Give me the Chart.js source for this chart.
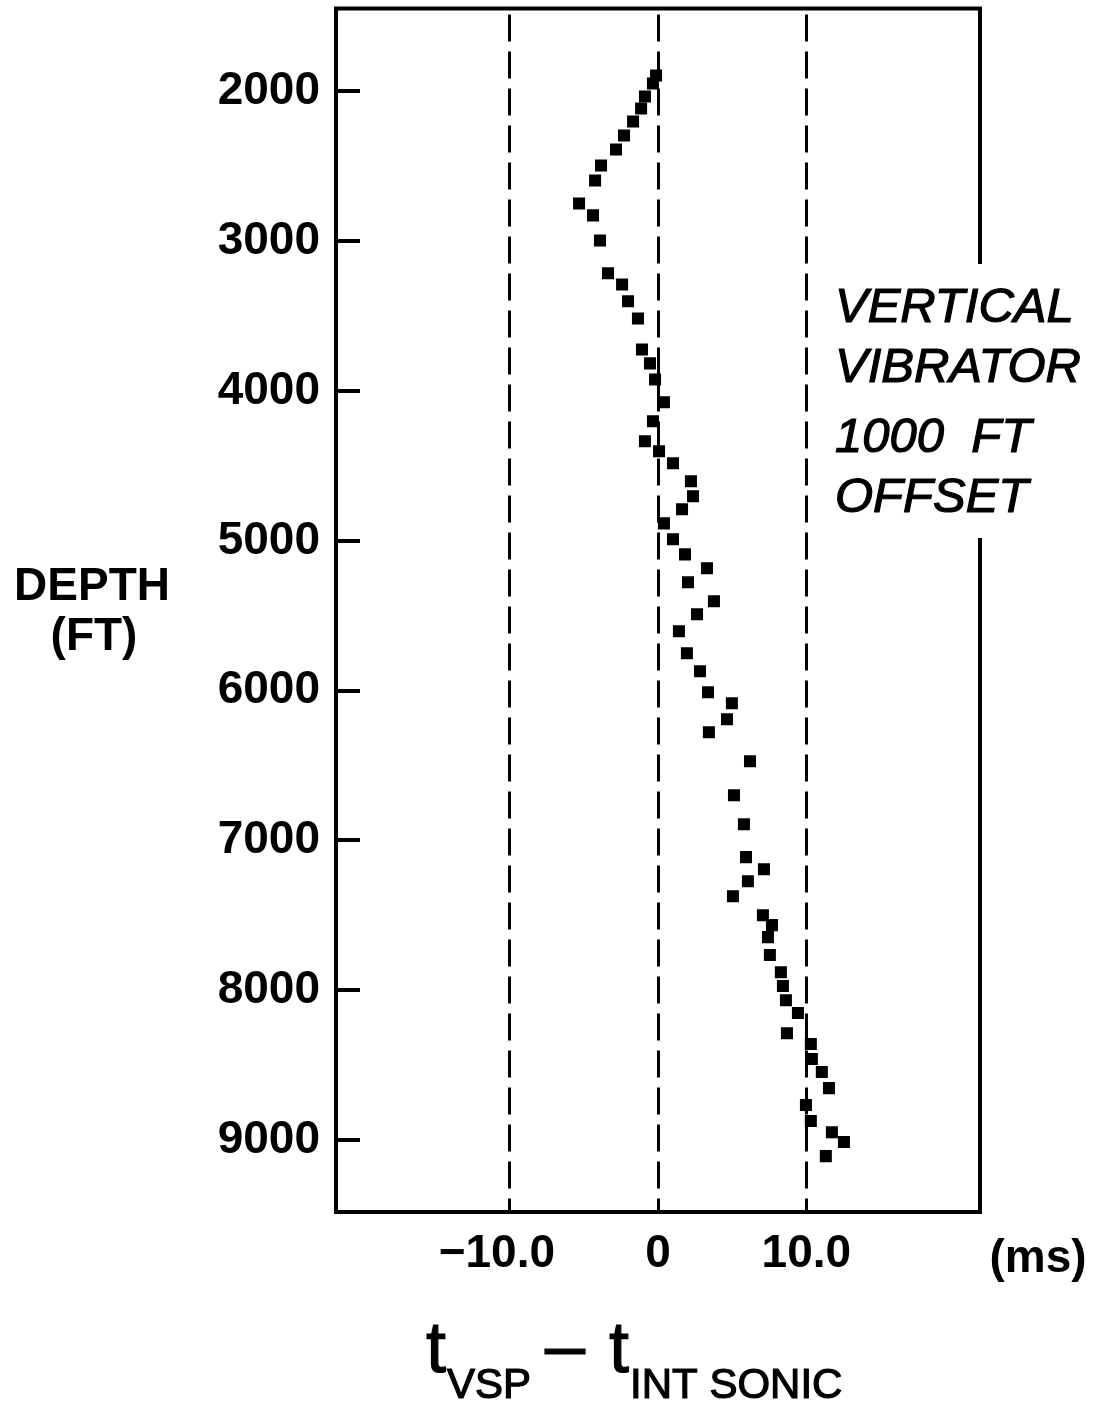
<!DOCTYPE html>
<html><head><meta charset="utf-8">
<script src="https://cdn.jsdelivr.net/npm/chart.js@4"></script>
<style>html,body{margin:0;padding:0;background:#fff;}canvas{display:block;}</style>
</head><body>
<canvas id="c" width="1095" height="1406"></canvas>
<script>
// ---- data ----
const depthFt = [1893,1947,2033,2113,2200,2294,2387,2494,2594,2747,2827,2994,3214,3288,3401,3515,3722,3815,3922,4075,4202,4335,4402,4482,4602,4702,4789,4883,4989,5090,5183,5276,5403,5490,5603,5750,5870,6010,6084,6190,6277,6471,6698,6891,7111,7192,7272,7372,7499,7565,7645,7765,7879,7972,8066,8152,8286,8359,8459,8546,8653,8766,8873,8947,9013,9107];
const deltaMs = [-0.13,-0.34,-0.88,-1.14,-1.68,-2.29,-2.83,-3.84,-4.24,-5.32,-4.38,-3.91,-3.37,-2.42,-2.02,-1.35,-1.08,-0.54,-0.20,0.40,-0.34,-0.88,0.07,1.01,2.22,2.36,1.62,0.40,1.01,1.82,3.30,2.02,3.77,2.63,1.41,1.95,2.83,3.37,4.98,4.65,3.43,6.20,5.12,5.79,5.93,7.14,6.06,5.05,7.07,7.68,7.41,7.54,8.28,8.42,8.62,9.43,8.69,10.30,10.37,11.04,11.52,9.97,10.30,11.72,12.53,11.31];
const xTickValues = [-10, 0, 10];
const xTickLabels = ['\u221210.0\u2007', '0', '10.0'];
const yTickValues = [2000, 3000, 4000, 5000, 6000, 7000, 8000, 9000];
const yTickLabels = ['2000', '3000', '4000', '5000', '6000', '7000', '8000', '9000'];
const xUnitLabel = '(ms)';
const yTitleLines = ['DEPTH', '(FT)'];
const noteLines = ['VERTICAL', 'VIBRATOR', '1000  FT', 'OFFSET'];
const xTitleParts = [['t', 'VSP'], ['t', 'INT SONIC']];

const FONT = '"Liberation Sans", Arial, Helvetica, sans-serif';

const points = depthFt.map((d, i) => ({x: deltaMs[i], y: d}));

const decorPlugin = {
  id: 'decor',
  afterDraw(chart) {
    const {ctx, chartArea: a} = chart;
    ctx.save();
    // top and right frame (right side broken around the note)
    ctx.strokeStyle = '#000';
    ctx.lineWidth = 4;
    ctx.lineCap = 'square';
    ctx.beginPath();
    ctx.moveTo(a.left, a.top); ctx.lineTo(a.right, a.top);
    ctx.moveTo(a.right, a.top); ctx.lineTo(a.right, 262);
    ctx.moveTo(a.right, 540); ctx.lineTo(a.right, a.bottom);
    ctx.stroke();

    ctx.fillStyle = '#000';
    // unit label
    ctx.font = 'bold 46px ' + FONT;
    ctx.textAlign = 'center';
    ctx.textBaseline = 'alphabetic';
    ctx.fillText(xUnitLabel, 1038, 1272);
    // y title
    ctx.fillText(yTitleLines[0], 92, 600);
    ctx.fillText(yTitleLines[1], 94, 650);
    // note
    ctx.font = 'italic 49px ' + FONT;
    ctx.textAlign = 'left';
    ctx.lineWidth = 1.2;
    const noteY = [322, 382, 452, 512];
    noteLines.forEach((t, i) => { ctx.fillText(t, 835, noteY[i]); ctx.strokeText(t, 835, noteY[i]); });
    // x title with subscripts
    let x = 426;
    const bigF = '72px ' + FONT, subF = '42px ' + FONT;
    const put = (txt, font, y) => { ctx.font = font; ctx.fillText(txt, x, y); ctx.strokeText(txt, x, y); x += ctx.measureText(txt).width; };
    put(xTitleParts[0][0], bigF, 1372); x += 1;
    put(xTitleParts[0][1], subF, 1398);
    x += 14;
    put('\u2013', bigF, 1370);
    x += 24;
    put(xTitleParts[1][0], bigF, 1372); x += 1;
    put(xTitleParts[1][1], subF, 1398);
    ctx.restore();
  }
};

new Chart(document.getElementById('c'), {
  type: 'scatter',
  data: {
    datasets: [{
      data: points,
      pointStyle: 'rect',
      radius: 8.5,
      backgroundColor: '#000',
      borderColor: '#000',
      borderWidth: 0
    }]
  },
  options: {
    responsive: false,
    devicePixelRatio: 1,
    animation: false,
    events: [],
    layout: {padding: {top: 8, right: 115, left: 0, bottom: 0}},
    plugins: {legend: {display: false}, tooltip: {enabled: false}},
    scales: {
      x: {
        type: 'linear', position: 'bottom', min: -21.7, max: 21.7,
        afterBuildTicks: s => { s.ticks = xTickValues.map(v => ({value: v})); },
        afterFit: s => { s.height = 194; s.paddingLeft = 0; s.paddingRight = 0; },
        grid: {color: '#000', lineWidth: 3, drawTicks: false},
        border: {display: true, color: '#000', width: 4, dash: [27, 10], dashOffset: 31},
        ticks: {
          padding: 15, color: '#000', maxRotation: 0, autoSkip: false,
          font: {family: FONT, size: 46, weight: 'bold'},
          callback: (v, i) => xTickLabels[i]
        }
      },
      y: {
        type: 'linear', position: 'left', reverse: true, min: 1446, max: 9480,
        afterBuildTicks: s => { s.ticks = yTickValues.map(v => ({value: v})); },
        afterFit: s => { s.width = 336; s.paddingTop = 0; s.paddingBottom = 0; },
        grid: {drawOnChartArea: false, drawTicks: true, tickLength: -24, color: '#000', lineWidth: 4},
        border: {display: true, color: '#000', width: 4},
        ticks: {
          padding: 40, color: '#000', autoSkip: false,
          font: {family: FONT, size: 46, weight: 'bold'},
          callback: (v, i) => yTickLabels[i]
        }
      }
    }
  },
  plugins: [decorPlugin]
});
</script>
</body></html>
